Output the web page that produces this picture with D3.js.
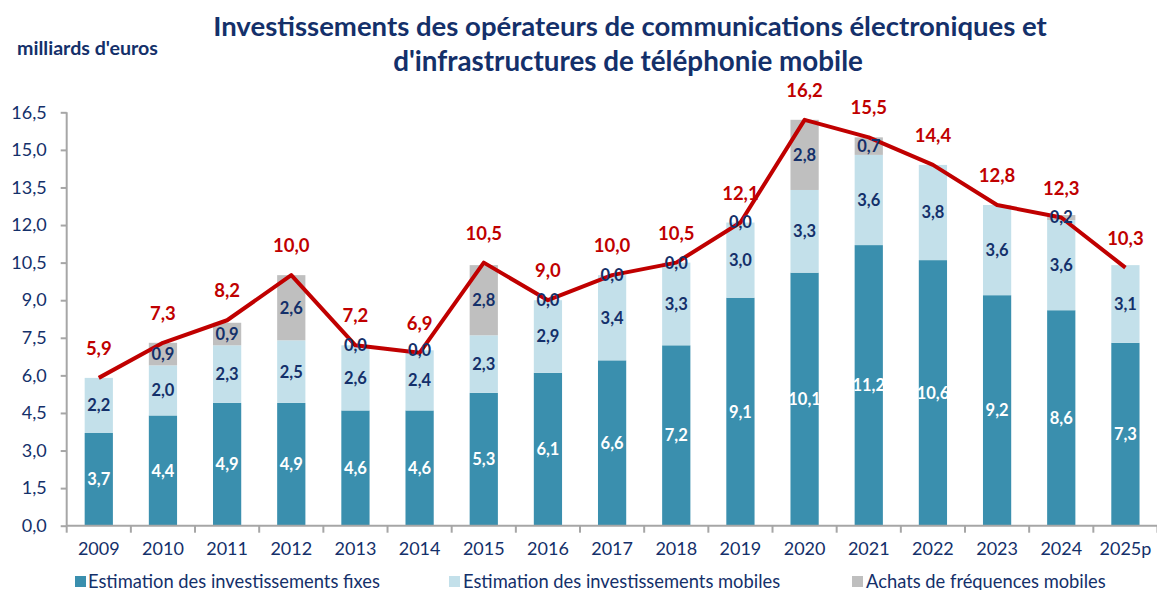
<!DOCTYPE html>
<html><head><meta charset="utf-8">
<script src="https://cdn.jsdelivr.net/npm/d3@7"></script>
<style>
body{margin:0;background:#fff;}
svg{display:block;font-family:Lato,"Open Sans",sans-serif;}
</style></head>
<body><svg id="c" width="1157" height="590"></svg>
<script>
const years = ["2009","2010","2011","2012","2013","2014","2015","2016","2017","2018","2019","2020","2021","2022","2023","2024","2025p"];
const fixes = [3.7,4.4,4.9,4.9,4.6,4.6,5.3,6.1,6.6,7.2,9.1,10.1,11.2,10.6,9.2,8.6,7.3];
const mobiles = [2.2,2.0,2.3,2.5,2.6,2.4,2.3,2.9,3.4,3.3,3.0,3.3,3.6,3.8,3.6,3.6,3.1];
const frequences = [null,0.9,0.9,2.6,0.0,0.0,2.8,0.0,0.0,0.0,0.0,2.8,0.7,null,null,0.2,null];
const totals = [5.9,7.3,8.2,10.0,7.2,6.9,10.5,9.0,10.0,10.5,12.1,16.2,15.5,14.4,12.8,12.3,10.3];
const yTicks = [0,1.5,3,4.5,6,7.5,9,10.5,12,13.5,15,16.5];
const seriesNames = ["Estimation des investissements fixes","Estimation des investissements mobiles","Achats de fréquences mobiles"];
const title1 = "Investissements des opérateurs de communications électroniques et";
const title2 = "d'infrastructures de téléphonie mobile";
const unitLabel = "milliards d'euros";

const colors = ["#3A8FAE","#C3E0EA","#BFBFBF"];
const labelColors = ["#FFFFFF","#14306A","#14306A"];
const navy = "#14306A";
const red = "#C00000";
const axisGrey = "#A6A6A6";

const svg = d3.select("#c");
const x = d3.scaleBand().domain(years).range([66.7,1157.5]).paddingInner(0.56).paddingOuter(0.28);
const y = d3.scaleLinear().domain([0,16.5]).range([525.7,112.3]);
const fmt = v => d3.format(".1f")(v).replace(".",",");

const rows = years.map((yr,i)=>({year:yr, fixes:fixes[i], mobiles:mobiles[i], freq:frequences[i]==null?0:frequences[i], freqRaw:frequences[i]}));
const keys = ["fixes","mobiles","freq"];
const stack = d3.stack().keys(keys)(rows);

// bars
const g = svg.append("g");
stack.forEach((s,si)=>{
  g.selectAll(null).data(s).enter().append("rect")
    .attr("x",d=>x(d.data.year))
    .attr("width",x.bandwidth())
    .attr("y",d=>y(d[1]))
    .attr("height",d=>Math.max(0,y(d[0])-y(d[1])))
    .attr("fill",colors[si]);
});

// axes
const yAxis = svg.append("g").attr("transform","translate(66.7,0)")
  .call(d3.axisLeft(y).tickValues(yTicks).tickFormat(fmt).tickSize(6).tickPadding(14));
yAxis.select(".domain").attr("stroke",axisGrey).attr("stroke-width",2).attr("d","M0,112.3V525.7");
yAxis.selectAll(".tick line").attr("stroke",axisGrey).attr("stroke-width",2);
yAxis.selectAll(".tick text").attr("fill",navy).attr("font-size",18).attr("font-family","Lato");

const xAxis = svg.append("g").attr("transform","translate(0,525.7)")
  .call(d3.axisBottom(x).tickSize(0).tickPadding(17));
xAxis.select(".domain").attr("stroke",axisGrey).attr("stroke-width",2).attr("d","M66.7,0H1157.5");
xAxis.selectAll(".tick text").attr("fill",navy).attr("font-size",18).attr("font-family","Lato");
// category separator ticks
const step = x.step();
xAxis.selectAll(null).data(d3.range(years.length+1)).enter().append("line")
  .attr("x1",i=>66.7+i*step).attr("x2",i=>66.7+i*step)
  .attr("y1",0).attr("y2",7).attr("stroke",axisGrey).attr("stroke-width",2);

// total line
const line = d3.line().x((d,i)=>x(years[i])+x.bandwidth()/2).y(d=>y(d));
svg.append("path").datum(totals).attr("d",line).attr("fill","none")
  .attr("stroke",red).attr("stroke-width",4).attr("stroke-linejoin","round");

// segment labels
stack.forEach((s,si)=>{
  svg.selectAll(null).data(s.filter(d=> si<2 || d.data.freqRaw!=null)).enter().append("text")
    .attr("x",d=>x(d.data.year)+x.bandwidth()/2)
    .attr("y",d=>(y(d[0])+y(d[1]))/2)
    .attr("dy","0.36em")
    .attr("text-anchor","middle")
    .attr("font-size",16.5).attr("font-weight","bold")
    .attr("fill",labelColors[si])
    .text(d=>fmt(d[1]-d[0]));
});

// total labels
svg.selectAll(null).data(totals).enter().append("text")
  .attr("x",(d,i)=>x(years[i])+x.bandwidth()/2)
  .attr("y",d=>y(d)-23)
  .attr("text-anchor","middle")
  .attr("font-size",18.5).attr("font-weight","bold").attr("fill",red)
  .text(d=>fmt(d));

// titles
function fit(t, w){ const l=t.node().getComputedTextLength(); const fs=parseFloat(t.attr("font-size")); const n=fs*w/l; t.attr("font-size",n); return n; }
const t1 = svg.append("text").attr("x",630).attr("y",36).attr("text-anchor","middle")
  .attr("font-size",26).attr("font-weight","bold").attr("fill",navy).text(title1);
fit(t1,834);
const t2 = svg.append("text").attr("x",628).attr("y",71).attr("text-anchor","middle")
  .attr("font-size",26).attr("font-weight","bold").attr("fill",navy).text(title2);
fit(t2,470);
const u = svg.append("text").attr("x",17).attr("y",55)
  .attr("font-size",15).attr("font-weight","bold").attr("fill",navy).text(unitLabel);
fit(u,141);

// legend
const legSq = [75,449,852];
const legTx = [88,463,866];
const leg = svg.append("g");
let legFs = 16.5;
seriesNames.forEach((n,i)=>{
  leg.append("rect").attr("x",legSq[i]).attr("y",576).attr("width",11).attr("height",11).attr("fill",colors[i]);
  const t = leg.append("text").attr("x",legTx[i]).attr("y",587.5)
    .attr("font-size",legFs).attr("fill",navy).text(n);
  if(i===0) legFs = fit(t,292); else t.attr("font-size",legFs);
});
</script></body></html>
